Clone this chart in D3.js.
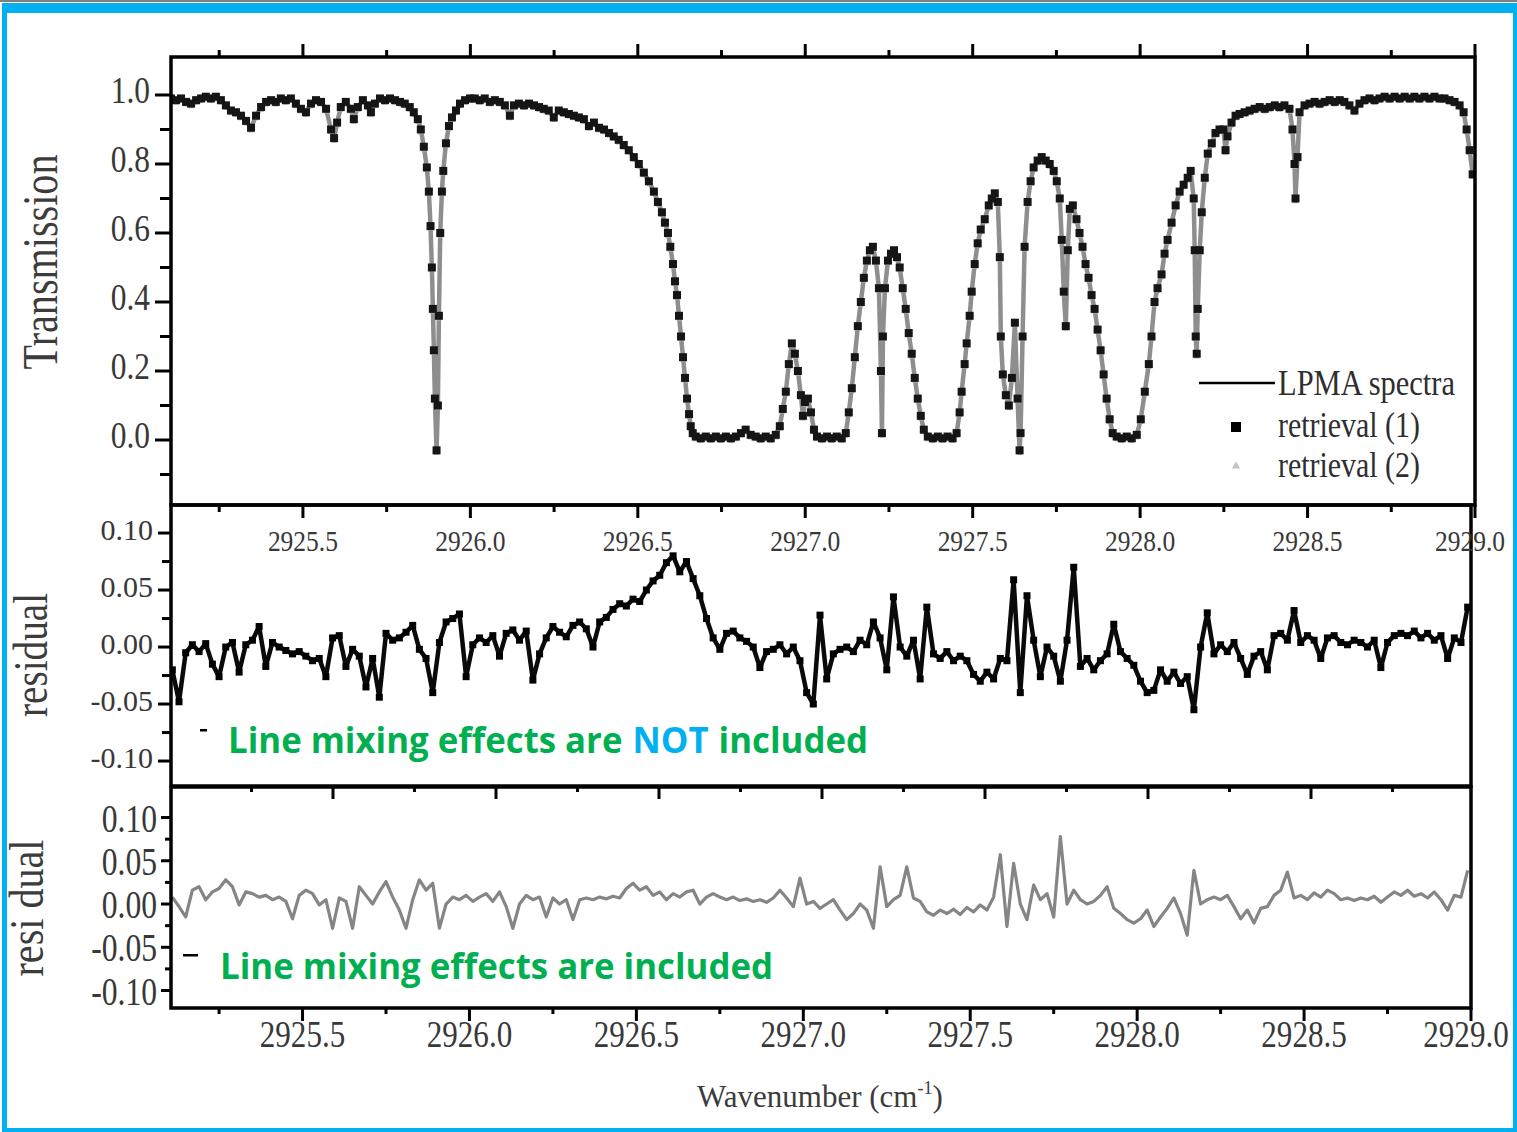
<!DOCTYPE html>
<html><head><meta charset="utf-8">
<script src="https://cdn.jsdelivr.net/npm/d3@7"></script>
<style>body{margin:0;background:#fff}svg{display:block}</style>
</head><body>
<svg id="c" width="1517" height="1132"></svg>
<script>
// ---------- DATA ----------
const topWavenumber = [
2925.106,2925.121,2925.136,2925.151,2925.166,2925.181,2925.196,2925.210,2925.225,2925.240,
2925.255,2925.270,2925.285,2925.300,2925.315,2925.330,2925.345,2925.360,2925.375,2925.390,
2925.405,2925.419,2925.434,2925.449,2925.464,2925.479,2925.494,2925.509,2925.524,2925.539,
2925.554,2925.569,2925.584,2925.593,2925.602,2925.613,2925.628,2925.643,2925.652,2925.664,
2925.679,2925.694,2925.703,2925.715,2925.730,2925.745,2925.760,2925.775,2925.790,2925.804,
2925.819,2925.831,2925.843,2925.852,2925.861,2925.870,2925.876,2925.881,2925.885,2925.888,
2925.891,2925.894,2925.899,2925.903,2925.906,2925.910,2925.915,2925.919,2925.927,2925.936,
2925.945,2925.957,2925.969,2925.984,2925.999,
2926.013,2926.028,2926.043,2926.058,2926.073,2926.088,2926.103,2926.118,2926.130,2926.145,
2926.160,2926.175,2926.190,2926.205,2926.219,2926.234,2926.249,2926.264,2926.279,2926.294,
2926.309,2926.324,2926.339,2926.354,2926.369,2926.384,2926.399,2926.414,2926.428,2926.443,
2926.458,2926.473,2926.488,2926.503,2926.518,2926.533,2926.548,2926.560,2926.572,2926.581,
2926.590,2926.597,2926.605,2926.611,2926.617,2926.623,2926.629,2926.635,2926.641,2926.647,
2926.653,2926.658,2926.664,2926.673,2926.688,2926.703,2926.718,2926.733,2926.748,2926.763,
2926.778,2926.793,2926.808,2926.822,2926.837,2926.852,2926.867,2926.882,2926.897,2926.912,
2926.924,2926.933,2926.942,2926.951,2926.960,2926.969,2926.978,2926.987,2926.993,2926.999,
2927.008,2927.017,2927.026,2927.035,2927.050,2927.065,2927.079,2927.094,2927.109,2927.121,
2927.130,2927.139,2927.148,2927.157,2927.166,2927.175,2927.184,2927.193,2927.202,2927.211,
2927.220,2927.226,2927.229,2927.232,2927.238,2927.247,2927.256,2927.265,2927.274,2927.282,
2927.291,2927.300,2927.309,2927.318,2927.327,2927.336,2927.345,2927.354,2927.366,2927.381,
2927.396,2927.410,2927.425,2927.440,2927.452,2927.461,2927.467,2927.476,2927.482,2927.491,
2927.497,2927.506,2927.515,2927.524,2927.536,2927.548,2927.557,2927.566,2927.575,2927.581,
2927.584,2927.590,2927.599,2927.608,2927.617,2927.626,2927.634,2927.640,2927.643,2927.649,
2927.655,2927.664,2927.673,2927.682,2927.694,2927.706,2927.718,2927.730,2927.742,2927.751,
2927.760,2927.766,2927.772,2927.778,2927.784,2927.790,2927.799,2927.810,2927.819,2927.828,
2927.837,2927.846,2927.855,2927.864,2927.873,2927.882,2927.891,2927.900,2927.909,2927.918,
2927.930,2927.945,2927.960,2927.975,2927.990,
2928.002,2928.014,2928.026,2928.034,2928.043,2928.052,2928.064,2928.073,2928.082,2928.094,
2928.106,2928.118,2928.130,2928.142,2928.151,2928.160,2928.163,2928.166,2928.169,2928.172,
2928.178,2928.184,2928.193,2928.202,2928.214,2928.225,2928.237,2928.249,2928.255,2928.261,
2928.273,2928.285,2928.297,2928.312,2928.327,2928.342,2928.357,2928.372,2928.387,2928.402,
2928.416,2928.431,2928.446,2928.455,2928.461,2928.464,2928.470,2928.476,2928.491,2928.506,
2928.521,2928.536,2928.551,2928.566,2928.581,2928.596,2928.610,2928.625,2928.640,2928.655,
2928.670,2928.685,2928.700,2928.715,2928.730,2928.745,2928.760,2928.775,2928.790,2928.805,
2928.819,2928.834,2928.849,2928.864,2928.879,2928.894,2928.909,2928.924,2928.939,2928.954,
2928.966,2928.975,2928.984,2928.993
];
const transmission = [
0.99,0.985,0.99,0.98,0.975,0.985,0.99,0.995,0.99,0.995,
0.985,0.97,0.955,0.95,0.94,0.925,0.905,0.94,0.965,0.98,
0.985,0.98,0.99,0.985,0.99,0.975,0.96,0.95,0.975,0.985,
0.98,0.96,0.9,0.875,0.92,0.965,0.98,0.96,0.93,0.965,
0.985,0.97,0.95,0.975,0.99,0.985,0.99,0.985,0.98,0.975,
0.965,0.95,0.93,0.9,0.85,0.79,0.72,0.62,0.5,0.38,
0.26,0.12,-0.03,0.1,0.36,0.6,0.72,0.78,0.86,0.91,
0.935,0.955,0.975,0.985,0.99,
0.99,0.985,0.99,0.98,0.985,0.98,0.97,0.94,0.97,0.975,
0.97,0.975,0.97,0.965,0.96,0.955,0.935,0.955,0.95,0.945,
0.94,0.935,0.93,0.91,0.92,0.905,0.9,0.89,0.88,0.87,
0.855,0.84,0.82,0.8,0.775,0.75,0.72,0.69,0.66,0.63,
0.6,0.56,0.51,0.46,0.42,0.36,0.3,0.24,0.18,0.12,
0.075,0.04,0.02,0.01,0.005,0.01,0.005,0.01,0.005,0.01,
0.005,0.01,0.02,0.03,0.015,0.01,0.005,0.01,0.005,0.015,
0.04,0.09,0.14,0.22,0.28,0.25,0.2,0.13,0.07,0.11,
0.12,0.08,0.03,0.01,0.005,0.01,0.005,0.01,0.005,0.02,
0.08,0.15,0.24,0.33,0.4,0.47,0.52,0.55,0.56,0.52,
0.44,0.2,0.02,0.3,0.44,0.52,0.54,0.55,0.53,0.5,
0.44,0.38,0.31,0.25,0.18,0.12,0.07,0.03,0.01,0.005,
0.01,0.005,0.01,0.005,0.02,0.08,0.14,0.22,0.28,0.36,
0.43,0.51,0.57,0.61,0.64,0.68,0.7,0.715,0.69,0.53,
0.3,0.19,0.13,0.1,0.18,0.34,0.12,-0.03,0.02,0.3,
0.56,0.69,0.75,0.79,0.81,0.82,0.81,0.8,0.78,0.75,
0.7,0.58,0.43,0.33,0.55,0.67,0.68,0.64,0.6,0.56,
0.51,0.47,0.42,0.38,0.32,0.26,0.19,0.12,0.06,0.02,
0.01,0.005,0.01,0.005,0.015,
0.06,0.14,0.22,0.3,0.4,0.44,0.48,0.54,0.58,0.63,
0.68,0.72,0.74,0.76,0.78,0.7,0.55,0.3,0.25,0.38,
0.55,0.66,0.76,0.83,0.86,0.89,0.9,0.9,0.84,0.88,
0.92,0.94,0.945,0.95,0.955,0.96,0.965,0.96,0.965,0.97,
0.965,0.97,0.96,0.9,0.8,0.7,0.82,0.95,0.97,0.975,
0.98,0.975,0.98,0.985,0.98,0.985,0.98,0.97,0.955,0.975,
0.985,0.99,0.985,0.99,0.995,0.99,0.995,0.99,0.995,0.99,
0.995,0.99,0.995,0.99,0.995,0.99,0.99,0.985,0.98,0.97,
0.95,0.9,0.84,0.77
];
const residualWavenumber = [
2925.11,2925.13,2925.15,2925.17,2925.19,2925.21,2925.23,2925.25,2925.27,2925.29,
2925.31,2925.33,2925.35,2925.37,2925.39,2925.41,2925.43,2925.45,2925.47,2925.49,
2925.51,2925.53,2925.55,2925.57,2925.59,2925.61,2925.63,2925.65,2925.67,2925.69,
2925.71,2925.73,2925.75,2925.77,2925.79,2925.81,2925.83,2925.85,2925.87,2925.89,
2925.91,2925.93,2925.95,2925.97,2925.99,
2926.01,2926.03,2926.05,2926.07,2926.09,2926.11,2926.13,2926.15,2926.17,2926.19,
2926.21,2926.23,2926.25,2926.27,2926.29,2926.31,2926.33,2926.35,2926.37,2926.39,
2926.41,2926.43,2926.45,2926.47,2926.49,2926.51,2926.53,2926.55,2926.57,2926.59,
2926.61,2926.63,2926.65,2926.67,2926.69,2926.71,2926.73,2926.75,2926.77,2926.79,
2926.81,2926.83,2926.85,2926.87,2926.89,2926.91,2926.93,2926.95,2926.97,2926.99,
2927.01,2927.03,2927.05,2927.07,2927.09,2927.11,2927.13,2927.15,2927.17,2927.19,
2927.21,2927.23,2927.25,2927.27,2927.29,2927.31,2927.33,2927.35,2927.37,2927.39,
2927.41,2927.43,2927.45,2927.47,2927.49,2927.51,2927.53,2927.55,2927.57,2927.59,
2927.61,2927.63,2927.65,2927.67,2927.69,2927.71,2927.73,2927.75,2927.77,2927.79,
2927.81,2927.83,2927.85,2927.87,2927.89,2927.91,2927.93,2927.95,2927.97,2927.99,
2928.01,2928.03,2928.05,2928.07,2928.09,2928.11,2928.13,2928.15,2928.17,2928.19,
2928.21,2928.23,2928.25,2928.27,2928.29,2928.31,2928.33,2928.35,2928.37,2928.39,
2928.41,2928.43,2928.45,2928.47,2928.49,2928.51,2928.53,2928.55,2928.57,2928.59,
2928.61,2928.63,2928.65,2928.67,2928.69,2928.71,2928.73,2928.75,2928.77,2928.79,
2928.81,2928.83,2928.85,2928.87,2928.89,2928.91,2928.93,2928.95,2928.97,2928.99
];
// residual, line mixing NOT included
const residualNoMixing = [
-0.02,-0.048,-0.005,0.002,-0.004,0.003,-0.015,-0.026,0.0,0.004,
-0.022,0.002,0.006,0.018,-0.017,0.004,0.0,-0.003,-0.006,-0.004,
-0.008,-0.012,-0.01,-0.026,0.008,0.01,-0.017,-0.002,-0.008,-0.035,
-0.01,-0.044,0.012,0.006,0.008,0.013,0.019,-0.002,-0.01,-0.04,
0.004,0.022,0.025,0.029,-0.026,0.002,0.008,0.004,0.01,-0.008,
0.012,0.015,0.006,0.014,-0.029,-0.006,0.008,0.018,0.013,0.009,
0.019,0.022,0.016,0.0,0.022,0.026,0.033,0.038,0.036,0.042,
0.04,0.05,0.058,0.063,0.074,0.08,0.066,0.075,0.06,0.045,
0.025,0.008,-0.002,0.012,0.014,0.008,0.005,0.0,-0.018,-0.004,
-0.002,0.002,-0.006,0.0,-0.012,-0.04,-0.05,0.028,-0.028,-0.006,
-0.002,0.0,-0.004,0.006,0.002,0.022,0.008,-0.02,0.044,0.0,
-0.008,0.006,-0.028,0.035,-0.006,-0.01,-0.004,-0.012,-0.008,-0.012,
-0.024,-0.03,-0.022,-0.028,-0.01,-0.012,0.059,-0.04,0.045,0.006,
-0.026,0.0,-0.008,-0.03,0.006,0.07,-0.017,-0.01,-0.02,-0.012,
-0.006,0.02,-0.004,-0.01,-0.016,-0.03,-0.04,-0.038,-0.02,-0.03,
-0.022,-0.032,-0.026,-0.055,0.0,0.03,-0.006,0.002,-0.004,0.004,
-0.01,-0.024,-0.008,-0.004,-0.02,0.01,0.012,0.006,0.032,0.004,
0.01,0.006,-0.01,0.008,0.01,0.004,0.002,0.006,0.004,0.0,
0.006,-0.018,0.004,0.01,0.012,0.01,0.014,0.008,0.012,0.006,
0.01,-0.01,0.008,0.004,0.035
];
// residual, line mixing included
const residualMixing = [
0.008,-0.003,-0.015,0.016,0.02,0.005,0.014,0.018,0.028,0.02,
-0.001,0.014,0.012,0.008,0.01,0.005,0.008,0.003,-0.017,0.01,
0.016,0.012,-0.001,0.005,-0.028,0.007,0.003,-0.028,0.02,0.01,
0.0,0.014,0.026,0.008,-0.007,-0.028,0.005,0.028,0.016,0.024,
-0.028,0.0,0.008,0.005,0.01,0.003,0.008,0.012,0.003,0.014,
-0.003,-0.028,0.0,0.01,0.005,0.008,-0.015,0.007,0.0,0.005,
-0.018,0.005,0.007,0.005,0.008,0.006,0.009,0.007,0.018,0.024,
0.016,0.02,0.01,0.014,0.005,0.012,0.008,0.014,0.016,0.0,
0.008,0.012,0.008,0.005,0.008,0.004,0.006,0.003,0.005,0.002,
0.007,0.016,0.007,-0.003,0.03,0.0,0.003,-0.005,0.0,0.005,
-0.007,-0.018,-0.011,0.0,-0.007,-0.028,0.043,-0.003,0.005,0.01,
0.043,0.007,0.003,-0.009,-0.013,-0.007,-0.011,-0.006,-0.012,-0.004,
-0.009,-0.001,-0.007,0.008,0.057,-0.026,0.047,0.0,-0.018,0.022,
0.005,0.012,-0.015,0.078,0.0,0.016,0.005,0.0,0.003,0.01,
0.02,-0.005,-0.011,-0.018,-0.022,-0.017,-0.007,-0.026,-0.015,-0.005,
0.007,-0.011,-0.036,0.039,0.0,0.005,0.008,0.005,0.01,-0.003,
-0.017,-0.007,-0.022,-0.005,-0.003,0.01,0.016,0.037,0.007,0.01,
0.005,0.013,0.008,0.016,0.012,0.005,0.007,0.004,0.007,0.005,
0.009,0.002,0.008,0.014,0.01,0.016,0.009,0.012,0.007,0.014,
0.005,-0.007,0.01,0.008,0.039
];
const xMajorTicks = [2925.5,2926.0,2926.5,2927.0,2927.5,2928.0,2928.5,2929.0];
const xMinorTicks = [2925.25,2925.75,2926.25,2926.75,2927.25,2927.75,2928.25,2928.75];
const transMajorTicks = [0.0,0.2,0.4,0.6,0.8,1.0];
const transMinorTicks = [-0.1,0.1,0.3,0.5,0.7,0.9];
const resMajorTicks = [-0.10,-0.05,0.00,0.05,0.10];
const resMinorTicks = [-0.075,-0.025,0.025,0.075];
const legendLabels = ["LPMA spectra","retrieval (1)","retrieval (2)"];
const noteNotIncluded = ["Line mixing effects are","NOT","included"];
const noteIncluded = "Line mixing effects are included";

// ---------- DRAW ----------
const svg = d3.select('#c');
const SERIF = "'Liberation Serif','Times New Roman',serif";
const TXT = '#383838';

function fit(sel, k){
  sel.each(function(){
    const L = this.getComputedTextLength();
    this.setAttribute('textLength', (L*k).toFixed(1));
    this.setAttribute('lengthAdjust','spacingAndGlyphs');
  });
}

// frame
svg.append('rect').attr('x',0).attr('y',0).attr('width',1517).attr('height',2).attr('fill','#7f7f7f');
const BLUE = '#00B0F0';
[[2,3,1515,10],[2,3,5,1129],[1513,3,4,1129],[2,1128,1515,4]].forEach(r=>{
  svg.append('rect').attr('x',r[0]).attr('y',r[1]).attr('width',r[2]).attr('height',r[3]).attr('fill',BLUE);
});

const P1 = {x0:171,x1:1475,y0:57,y1:505};
const P2 = {x0:171,x1:1471,y0:505,y1:786};
const P3 = {x0:171,x1:1471,y0:787,y1:1008};

const xTop = d3.scaleLinear().domain([2925.106,2929.0]).range([P1.x0,P1.x1]);
const xRes = d3.scaleLinear().domain([2925.106,2929.0]).range([P2.x0,P2.x1]);
const xMidAxis = d3.scaleLinear().domain([2925.0,2929.0]).range([170,1474]);
const yTop = d3.scaleLinear().domain([-0.1884,1.1101]).range([P1.y1,P1.y0]);
const yMid = d3.scaleLinear().domain([-0.1219,0.1246]).range([P2.y1,P2.y0]);
const yBot = d3.scaleLinear().domain([-0.1202,0.1353]).range([P3.y1,P3.y0]);

const defs = svg.append('defs');
[['c1',P1],['c2',P2],['c3',P3]].forEach(([id,p])=>{
  defs.append('clipPath').attr('id',id).append('rect')
    .attr('x',p.x0).attr('y',p.y0).attr('width',p.x1-p.x0).attr('height',p.y1-p.y0);
});

// top panel data
const topData = topWavenumber.map((w,i)=>({w, t:transmission[i]}));
const g1 = svg.append('g').attr('clip-path','url(#c1)');
g1.append('path').datum(topData)
  .attr('d', d3.line().x(d=>xTop(d.w)).y(d=>yTop(d.t)))
  .attr('fill','none').attr('stroke','#8e8e8e').attr('stroke-width',4.5).attr('stroke-linejoin','round');
g1.selectAll('path.t2').data(topData).join('path').attr('class','t2')
  .attr('d',d3.symbol(d3.symbolTriangle,14)())
  .attr('transform',d=>`translate(${xTop(d.w)},${yTop(d.t)+3})`).attr('fill','#b5b5b5');
g1.selectAll('rect.m').data(topData).join('rect').attr('class','m')
  .attr('x',d=>xTop(d.w)-4).attr('y',d=>yTop(d.t)-4)
  .attr('width',8).attr('height',8).attr('fill','#151515');

// middle residual
const midData = residualWavenumber.map((w,i)=>({w, r:residualNoMixing[i]}));
const g2 = svg.append('g').attr('clip-path','url(#c2)');
g2.append('path').datum(midData)
  .attr('d', d3.line().x(d=>xRes(d.w)).y(d=>yMid(d.r)))
  .attr('fill','none').attr('stroke','#0a0a0a').attr('stroke-width',4.5).attr('stroke-linejoin','round');
g2.selectAll('rect.m').data(midData).join('rect').attr('class','m')
  .attr('x',d=>xRes(d.w)-3.5).attr('y',d=>yMid(d.r)-3.5)
  .attr('width',7).attr('height',7).attr('fill','#000');

// bottom residual
const botData = residualWavenumber.map((w,i)=>({w, r:residualMixing[i]}));
const g3 = svg.append('g').attr('clip-path','url(#c3)');
g3.append('path').datum(botData)
  .attr('d', d3.line().x(d=>xRes(d.w)).y(d=>yBot(d.r)))
  .attr('fill','none').attr('stroke','#858585').attr('stroke-width',3.2).attr('stroke-linejoin','round');

// panel frames
[P1,P2,P3].forEach(p=>{
  svg.append('rect').attr('x',p.x0).attr('y',p.y0).attr('width',p.x1-p.x0).attr('height',p.y1-p.y0)
    .attr('fill','none').attr('stroke','#000').attr('stroke-width',3.5);
});

const ticks = svg.append('g').attr('stroke','#000').attr('stroke-width',3);
function vTicks(scale, vals, y, len){
  vals.forEach(v=>{ const x=scale(v);
    ticks.append('line').attr('x1',x).attr('x2',x).attr('y1',y).attr('y2',y+len); });
}
function hTicks(scale, vals, x, len){
  vals.forEach(v=>{ const y=scale(v);
    ticks.append('line').attr('x1',x).attr('x2',x-len).attr('y1',y).attr('y2',y); });
}
vTicks(xTop, xMajorTicks, P1.y0, -13);
vTicks(xTop, xMinorTicks, P1.y0, -7);
vTicks(xTop, xMajorTicks, P1.y1, 13);
vTicks(xTop, xMinorTicks, P1.y1, 7);
hTicks(yTop, transMajorTicks, P1.x0, 16);
hTicks(yTop, transMinorTicks, P1.x0, 11);
hTicks(yMid, resMajorTicks, P2.x0, 13);
hTicks(yMid, resMinorTicks, P2.x0, 9);
vTicks(xMidAxis, xMajorTicks.filter(v=>v<2929), P2.y1, 13);
vTicks(xMidAxis, xMinorTicks, P2.y1, 6);
hTicks(yBot, resMajorTicks, P3.x0, 10);
hTicks(yBot, resMinorTicks, P3.x0, 6);
vTicks(xRes, xMajorTicks, P3.y1, 13);
vTicks(xRes, xMinorTicks, P3.y1, 6);

const labels = svg.append('g').attr('font-family',SERIF).attr('fill',TXT);
labels.selectAll('text.yt').data(transMajorTicks).join('text').attr('class','yt')
  .attr('x',150).attr('y',d=>yTop(d)+8.5).attr('text-anchor','end').attr('font-size',37)
  .text(d=>d.toFixed(1)).call(fit,0.85);
labels.selectAll('text.ym').data(resMajorTicks).join('text').attr('class','ym')
  .attr('x',153).attr('y',d=>yMid(d)+7).attr('text-anchor','end').attr('font-size',30)
  .text(d=>d.toFixed(2)).call(fit,1.0);
labels.selectAll('text.yb').data(resMajorTicks).join('text').attr('class','yb')
  .attr('x',157).attr('y',d=>yBot(d)+14).attr('text-anchor','end').attr('font-size',40)
  .text(d=>d.toFixed(2)).call(fit,0.79);
labels.selectAll('text.xt').data(xMajorTicks).join('text').attr('class','xt')
  .attr('x',d=>Math.min(xTop(d),1470)).attr('y',551).attr('text-anchor','middle').attr('font-size',30)
  .text(d=>d.toFixed(1)).call(fit,0.85);
labels.selectAll('text.xb').data(xMajorTicks).join('text').attr('class','xb')
  .attr('x',d=>Math.min(xRes(d),1466)).attr('y',1047).attr('text-anchor','middle').attr('font-size',37)
  .text(d=>d.toFixed(1)).call(fit,0.84);

function vLabel(txt, bx, cy, size, len, stretch){
  const g = svg.append('g').attr('transform',`translate(${bx},${cy}) rotate(-90) scale(1,${stretch})`);
  g.append('text').attr('x',0).attr('y',0).attr('text-anchor','middle')
    .attr('font-family',SERIF).attr('font-size',size).attr('fill','#3c3c3c')
    .attr('textLength',len).attr('lengthAdjust','spacingAndGlyphs').text(txt);
}
vLabel('Transmission', 57, 262, 40, 215, 1.25);
vLabel('residual', 47, 655, 40, 124, 1.2);
vLabel('resi dual', 43, 908, 40, 137, 1.2);

const xt = svg.append('text').attr('x',697).attr('y',1107).attr('font-family',SERIF)
  .attr('font-size',31).attr('fill','#3c3c3c');
xt.append('tspan').text('Wavenumber (cm');
xt.append('tspan').attr('font-size',18).attr('dy',-13).text('-1');
xt.append('tspan').attr('dy',13).text(')');

// legend
svg.append('line').attr('x1',1199).attr('x2',1275).attr('y1',383).attr('y2',383)
  .attr('stroke','#000').attr('stroke-width',2.5);
svg.append('rect').attr('x',1231).attr('y',422).attr('width',10).attr('height',10).attr('fill','#000');
svg.append('path').attr('d',d3.symbol(d3.symbolTriangle,30)()).attr('transform','translate(1236,466)')
  .attr('fill','#c4c4c4');
const legY = [395,437,477], legLen = [177,142,142];
legendLabels.forEach((t,i)=>{
  svg.append('text').attr('x',1278).attr('y',legY[i]).attr('font-family',SERIF)
    .attr('font-size',35).attr('fill','#2e2e2e')
    .attr('textLength',legLen[i]).attr('lengthAdjust','spacingAndGlyphs').text(t);
});

// annotations
const GREEN = '#00B050';
const SANS = "'Open Sans',sans-serif";
svg.append('rect').attr('x',200).attr('y',729).attr('width',7).attr('height',2.5).attr('fill','#000');
svg.append('rect').attr('x',183).attr('y',954).attr('width',15).attr('height',2.5).attr('fill','#000');
(function(){
  const cols = [GREEN, BLUE, GREEN];
  const parts = noteNotIncluded.map((t,i)=> svg.append('text').attr('y',753)
    .attr('font-family',SANS).attr('font-weight','bold').attr('font-size',36)
    .attr('fill',cols[i]).text(t));
  const widths = parts.map(p=>p.node().getComputedTextLength());
  const gap = 10;
  const k = (640 - 2*gap)/d3.sum(widths);
  let x = 228;
  parts.forEach((p,i)=>{
    p.attr('x',x).attr('textLength',widths[i]*k).attr('lengthAdjust','spacingAndGlyphs');
    x += widths[i]*k + gap;
  });
})();
svg.append('text').attr('x',220).attr('y',979).attr('font-family',SANS)
  .attr('font-weight','bold').attr('font-size',36).attr('fill',GREEN)
  .attr('textLength',553).attr('lengthAdjust','spacingAndGlyphs').text(noteIncluded);
</script>
</body></html>
